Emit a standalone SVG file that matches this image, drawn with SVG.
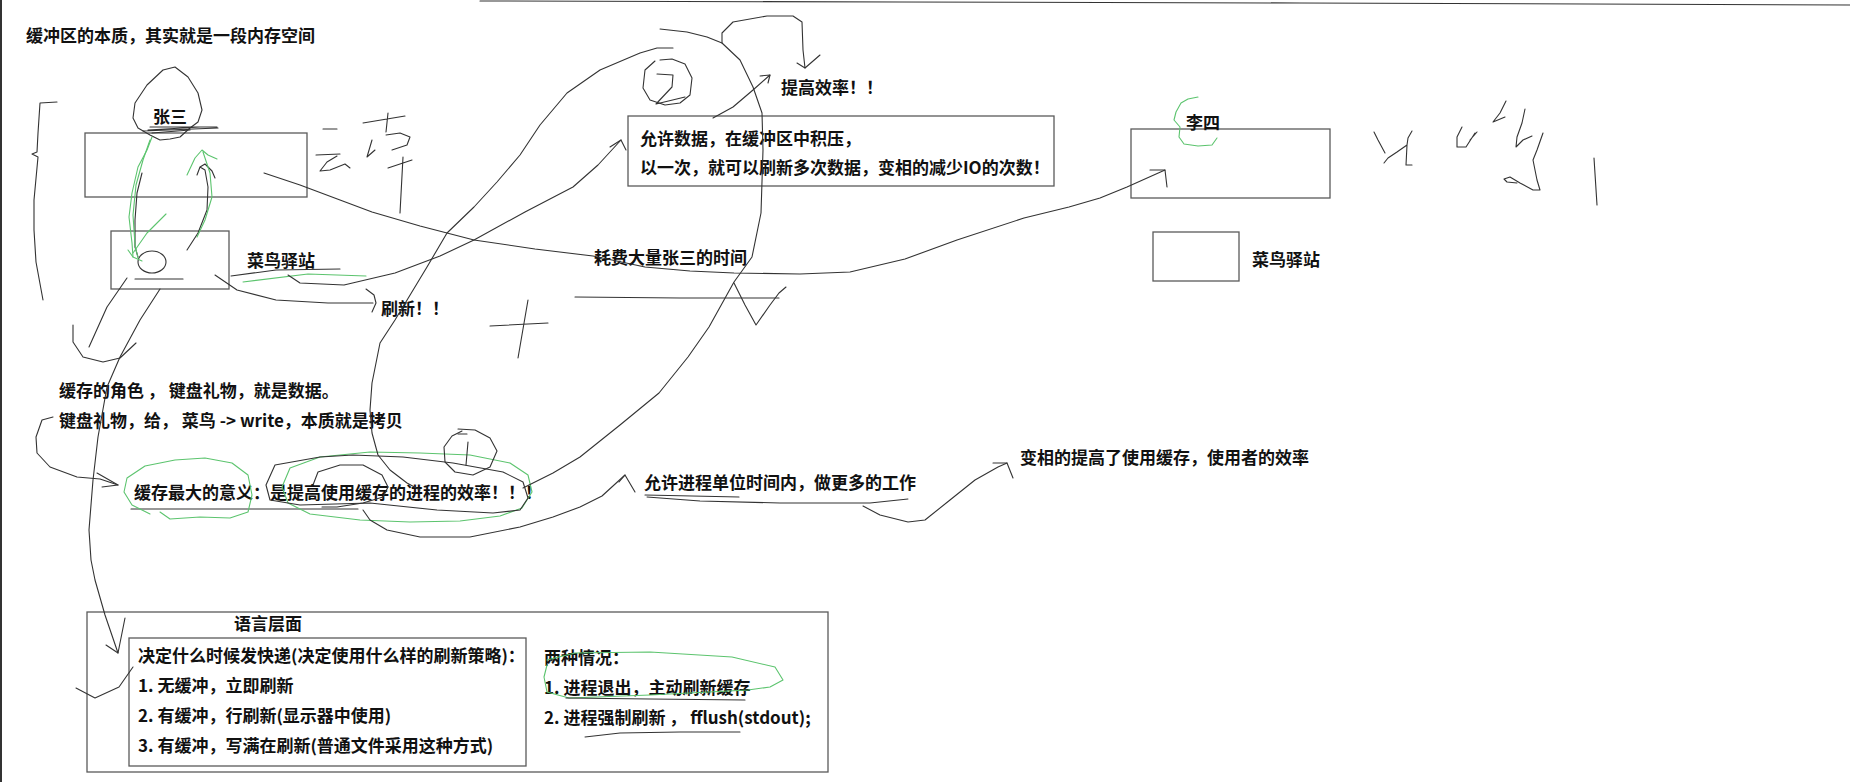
<svg xmlns="http://www.w3.org/2000/svg" width="1850" height="782" viewBox="0 0 1850 782">
<style>
.t{font-family:"Noto Sans CJK SC","Noto Sans",sans-serif;font-size:17px;font-weight:bold;fill:#111}
.box{fill:none;stroke:#5a5a5a;stroke-width:1.3}
.ink{fill:none;stroke:#333;stroke-width:1.1;stroke-linecap:round;stroke-linejoin:round}
.grn{fill:none;stroke:#5cc46e;stroke-width:1.1;stroke-linecap:round;stroke-linejoin:round}
</style>
<rect width="1850" height="782" fill="#fff"/>
<g id="frame">
<line x1="1" y1="0" x2="1" y2="782" stroke="#333" stroke-width="2"/>
<path class="ink" d="M480,1 L900,2 L1300,3 L1850,5" stroke="#666"/>
</g>

<g id="title"><text class="t" x="26" y="42">缓冲区的本质，其实就是一段内存空间</text></g>

<g id="zhangsan">
<rect class="box" x="85" y="133" width="222" height="64"/>
<text class="t" x="153" y="123">张三</text>
<path class="ink" d="M150,135 L138,128 L133,118 L135,103 L147,85 L163,70 L175,67 L188,77 L198,93 L202,110 L198,122 L190,128 L180,137 L170,139 L160,140 Z"/>
<path class="ink" stroke-width="1.6" d="M143,131 L218,128 M148,130 L200,127 M150,127 L217,127 M152,133 L190,130"/>
</g>

<g id="cainiao-left">
<rect class="box" x="111" y="231" width="118" height="58"/>
<text class="t" x="247" y="267">菜鸟驿站</text>
<ellipse class="ink" cx="152" cy="262" rx="14" ry="11"/>
<line class="ink" x1="135" y1="279" x2="183" y2="279"/>
<path class="ink" d="M231,276 L276,270 L340,269"/>
<path class="grn" d="M243,282 L308,274 L366,276"/>
</g>

<g id="shuaxin"><text class="t" x="381" y="315">刷新！！</text></g>
<g id="haofei"><text class="t" x="594" y="264">耗费大量张三的时间</text></g>

<g id="buffer-box">
<rect class="box" x="628" y="116" width="426" height="70"/>
<text class="t" x="640" y="145">允许数据，在缓冲区中积压，</text>
<text class="t" x="640" y="174">以一次，就可以刷新多次数据，变相的减少IO的次数！</text>
</g>

<g id="tigao"><text class="t" x="781" y="94">提高效率！！</text></g>

<g id="lisi">
<rect class="box" x="1131" y="129" width="199" height="69"/>
<text class="t" x="1186" y="129">李四</text>
<path class="grn" d="M1198,97 L1188,99 L1181,103 L1176,112 L1174,120 L1180,127 L1179,137 L1184,144 L1198,146 L1212,145 L1217,138"/>
</g>

<g id="cainiao-right">
<rect class="box" x="1153" y="232" width="86" height="49"/>
<text class="t" x="1252" y="266">菜鸟驿站</text>
</g>

<g id="role">
<text class="t" x="59" y="397" xml:space="preserve">缓存的角色 ， 键盘礼物，就是数据。</text>
<text class="t" x="59" y="427" xml:space="preserve">键盘礼物，给， 菜鸟 -&gt; write，本质就是拷贝</text>
</g>

<g id="meaning">
<text class="t" x="134" y="499">缓存最大的意义：是提高使用缓存的进程的效率！！！</text>
<line class="ink" x1="131" y1="509" x2="358" y2="509"/>
<path class="grn" d="M160,512 L170,519 L185,518 L200,517 L230,518 L248,512 L252,495 L248,475 L232,463 L205,458 L175,460 L145,466 L127,478 L124,492 L132,505 L150,514"/>
<path class="grn" d="M282,487 L290,468 L320,457 L370,452 L420,453 L470,455 L510,463 L528,475 L532,492 L522,508 L500,516 L460,521 L410,522 L360,520 L310,514 L288,503 Z"/>
<path class="ink" d="M266,485 L275,465 L320,457 L353,455 L403,457 L453,463 L503,472 L523,482 L528,498 L520,510 L493,513 L437,510 L370,503 L300,505 L270,500 Z"/>
<path class="ink" d="M313,485 L318,472 L340,465 L363,465 L382,475 L388,487 L383,497 L363,503 L337,507 L322,507"/>
<path class="ink" d="M458,429 L475,430 L490,438 L497,451 L490,467 L473,475 L455,472 L445,462 L444,447 L452,436 L462,431"/>
<path class="ink" d="M458,434 L467,434 M468,442 L466,465"/>
</g>

<g id="allow-work">
<text class="t" x="644" y="489">允许进程单位时间内，做更多的工作</text>
<path class="ink" stroke="#777" stroke-width="1.6" d="M645,495 L739,497"/>
<path class="ink" d="M647,497 L700,501 L780,503 L870,503 L908,499"/>
</g>

<g id="user-eff"><text class="t" x="1020" y="464">变相的提高了使用缓存，使用者的效率</text></g>

<g id="lang">
<rect class="box" x="87" y="612" width="741" height="160"/>
<text class="t" x="234" y="630">语言层面</text>
<rect class="box" x="129" y="638" width="397" height="128"/>
<text class="t" x="138" y="662">决定什么时候发快递(决定使用什么样的刷新策略)：</text>
<text class="t" x="138" y="692">1. 无缓冲，立即刷新</text>
<text class="t" x="138" y="722">2. 有缓冲，行刷新(显示器中使用)</text>
<text class="t" x="138" y="752">3. 有缓冲，写满在刷新(普通文件采用这种方式)</text>
<text class="t" x="544" y="664">两种情况：</text>
<text class="t" x="544" y="694">1. 进程退出，主动刷新缓存</text>
<text class="t" x="544" y="724" xml:space="preserve">2. 进程强制刷新 ， fflush(stdout);</text>
<path class="grn" d="M547,660 L575,653 L650,652 L732,657 L775,667 L783,680 L770,687 L748,690 L650,695 L569,698 L547,692 L544,677 L547,665"/>
<path class="ink" d="M566,698 L650,699 L745,700"/>
<path class="ink" d="M585,737 L620,733 L680,732 L740,732"/>
</g>

<g id="connectors">
<path class="ink" d="M264,173 L300,185 L340,200 L372,212 L420,226 L474,240 L535,249 L593,256 L645,267 L690,271 L734,273 L800,274 L850,272 L905,259 L957,240 L1024,218 L1069,207 L1100,198 L1127,187 L1165,170"/>
<path class="ink" d="M1150,170 L1165,170 L1167,187"/>
<path class="ink" d="M288,275 L300,283 L344,285 L395,273 L440,256 L474,240 L525,212 L573,187 L598,165 L621,140"/>
<path class="ink" d="M610,147 L621,140 L626,150"/>
<path class="ink" d="M215,275 L237,290 L276,300 L328,303 L373,303"/>
<path class="ink" d="M366,289 L374,295 L376,303 L372,312"/>
<path class="ink" d="M673,48 L657,48 L640,53 L600,70 L567,93 L540,125 L520,155 L497,182 L474,207 L447,233 L427,267 L395,320 L380,343 L372,383 L370,410 L372,433 L378,455 L390,470 L407,483 L420,490"/>
<path class="ink" d="M523,488 L553,473 L580,457 L620,425 L659,393 L688,357 L709,327 L734,282 L752,257 L761,213 L763,150 L762,113 L753,87 L740,60 L722,43 L707,37 L687,32 L660,29"/>
<path class="ink" d="M722,43 L722,33 L733,22 L767,16 L793,16 L802,22 L803,50 L805,68"/>
<path class="ink" d="M797,63 L805,68 L820,55"/>
<path class="ink" d="M713,118 L733,107 L753,90 L770,75"/>
<path class="ink" d="M760,76 L770,75 L768,83"/>
<path class="ink" d="M363,510 L370,520 L387,530 L420,537 L470,537 L520,527 L553,517 L580,507 L602,496 L625,475"/>
<path class="ink" d="M619,482 L625,475 L635,492"/>
<path class="ink" d="M863,506 L880,515 L908,522 L925,520 L950,500 L975,480 L998,467 L1007,463"/>
<path class="ink" d="M993,463 L1007,463 L1013,478"/>
<path class="ink" d="M53,417 L42,420 L36,437 L37,453 L50,467 L77,477 L100,479 L118,485"/>
<path class="ink" d="M97,473 L118,485 L102,487"/>
<path class="ink" d="M160,289 L140,320 L120,357 L107,387 L98,437 L93,480 L89,530 L91,560 L95,580 L105,615 L118,653"/>
<path class="ink" d="M106,645 L118,653 L125,618"/>
<path class="ink" d="M142,173 L137,193 L135,220 L135,247 L138,257"/>
<path class="ink" d="M187,250 L198,233 L207,210 L208,187 L205,170 L200,167 L197,175 M200,167 L205,164 L212,171 L215,178"/>
<path class="grn" d="M152,137 L147,150 L138,167 L132,193 L129,217 L132,243 L133,257"/>
<path class="grn" d="M150,140 L143,160 L136,185 L133,215 L135,245 L138,258"/>
<path class="grn" d="M166,214 L155,225 L147,233 L133,253 M128,250 L133,257 L142,261"/>
<path class="grn" d="M197,237 L205,220 L212,197 L210,173 L203,152 M187,175 L195,158 L202,150 L208,155 L217,159"/>
</g>

<g id="sketch">
<path class="ink" d="M57,102 L40,103 L38,133 L37,152 L32,154 L38,157 L34,200 L34,230 L36,262 L43,300"/>
<path class="ink" d="M127,278 L107,307 L89,347"/>
<path class="ink" d="M73,325 L73,342 L83,357 L103,362 L120,358 L136,343"/>
<path class="ink" d="M133,667 L119,687 L95,698 L76,688"/>
<path class="ink" d="M323,129 L337,129 M316,155 L340,154 M337,156 L327,162 L320,171 L330,170 L345,164 L350,168"/>
<path class="ink" d="M363,123 L405,116 M388,113 L386,132 M372,140 L367,157 L375,150 M386,135 L400,133 L410,137 L407,145 L392,150 M388,168 L412,160 M403,157 L400,213"/>
<path class="ink" d="M660,60 L672,59 L685,64 L692,78 L690,95 L680,103 L665,105 L650,100 L643,88 L645,70 L655,61"/>
<path class="ink" d="M657,74 L673,75 L672,87 L656,104 L685,97"/>
<path class="ink" d="M490,326 L548,323 M528,300 L518,358"/>
<path class="ink" d="M575,297 L680,298 L779,298"/>
<path class="ink" d="M734,283 L745,305 L756,325 L770,305 L779,293 L786,287"/>
<path class="ink" d="M1374,132 L1378,140 L1385,153 M1384,163 L1388,158 L1397,152 L1407,145 L1408,138 L1412,131 M1407,145 L1406,165 L1412,165"/>
<path class="ink" d="M1462,127 L1457,137 L1457,147 L1466,147 L1475,133 M1470,140 L1477,132"/>
<path class="ink" d="M1506,101 L1500,113 L1493,122 L1505,117"/>
<path class="ink" d="M1525,109 L1522,123 L1517,137 L1516,147 L1523,140 L1532,136"/>
<path class="ink" d="M1543,133 L1537,150 L1533,160 L1535,170 L1537,180 L1540,190 L1533,190 L1520,183 L1510,177 L1504,179 L1507,182 L1517,183"/>
<path class="ink" d="M1594,158 L1597,205"/>
</g>
</svg>
